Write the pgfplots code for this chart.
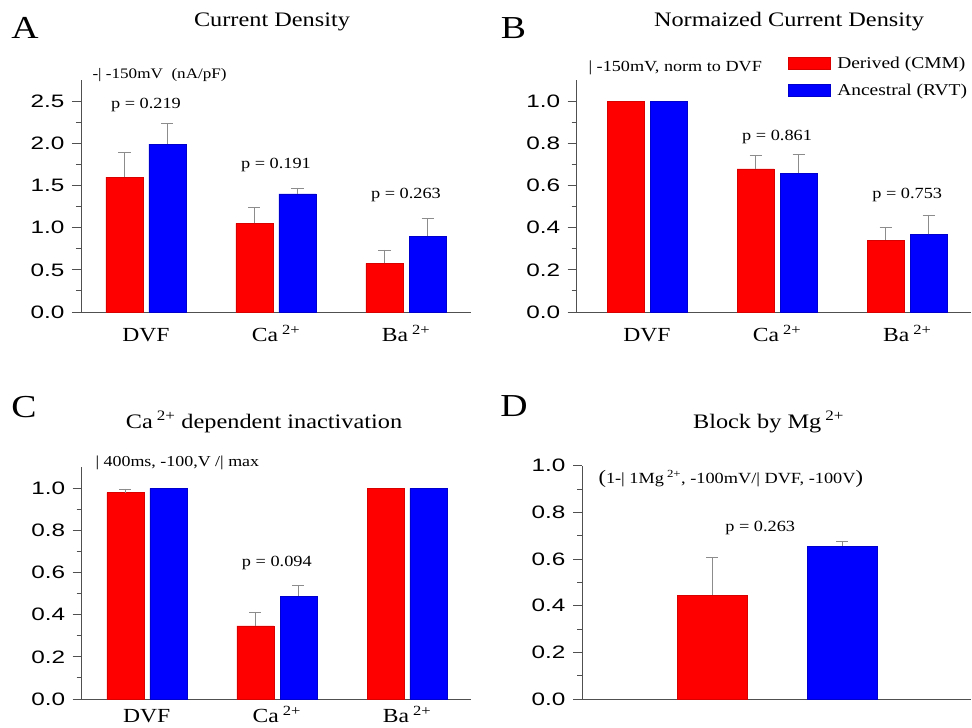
\documentclass[border=0pt]{standalone}
\usepackage{fontspec}
\setmainfont{Liberation Serif}[FakeStretch=1.18]
\newfontfamily\ticksf{Liberation Sans}[FakeStretch=1.35]
\usepackage{pgfplots}
\pgfplotsset{compat=1.18}
\definecolor{axgray}{HTML}{505050}
\definecolor{errgray}{HTML}{8C8C8C}
\pgfplotsset{
  panel/.style={
    scale only axis, anchor=south west, clip=false,
    axis x line=bottom, axis y line=left,
    axis line style={axgray, line width=0.9pt, -},
    tick style={axgray, line width=0.9pt},
    tick align=outside, major tick length=9pt, minor tick length=5pt,
    ymin=0, minor y tick num=1,
    yticklabel style={font=\ticksf\fontsize{18}{20}\selectfont, xshift=-4pt,
      /pgf/number format/.cd, fixed, fixed zerofill, precision=1, assume math mode=true},
    xticklabel style={font=\fontsize{20}{22}\selectfont, text height=16pt, text depth=0pt},
    x tick style={draw=none},
    ybar, bar width=37pt,
  },
  redbar/.style={fill=red, draw=red!85!black, line width=0.4pt},
  bluebar/.style={fill=blue, draw=blue!80!black, line width=0.4pt},
  errs/.style={error bars/.cd, y dir=plus, y explicit, error mark=|,
    error bar style={errgray, line width=0.9pt},
    error mark options={errgray, mark size=6pt, line width=0.9pt}},
  sw/.style={legend image code/.code={\draw[##1] (0pt,-6pt) rectangle (42pt,6pt);}},
}
\newcommand{\pfont}{\fontsize{15.5}{17}\selectfont}
\newcommand{\afont}{\fontsize{14.5}{16}\selectfont}
\newcommand{\tfont}{\fontsize{20.6}{22}\selectfont}
\newcommand{\lfont}{\fontsize{32}{34}\selectfont}
\newcommand{\ion}[1]{#1\kern4pt\textsuperscript{2+}}
\begin{document}
\begin{tikzpicture}
\useasboundingbox (0pt,0pt) rectangle (972pt,728pt);
% ---------------- Panel A
\begin{axis}[panel, at={(81pt,416pt)}, width=390pt, height=232pt,
  xmin=-0.5, xmax=2.5, ymax=2.75, ytick={0,0.5,...,2.5},
  xticklabel style={yshift=-1pt},
  xtick={0,1,2}, xticklabels={DVF, \ion{Ca}, \ion{Ba}}]
\addplot[redbar, bar shift=-21.5pt, errs] coordinates {(0,1.60) +- (0,0.29) (1,1.05) +- (0,0.19) (2,0.577) +- (0,0.158)};
\addplot[bluebar, bar shift=21.5pt, errs] coordinates {(0,1.99) +- (0,0.24) (1,1.40) +- (0,0.07) (2,0.90) +- (0,0.205)};
\node[font=\pfont] at (axis cs:0,2.45) {p = 0.219};
\node[font=\pfont] at (axis cs:1,1.742) {p = 0.191};
\node[font=\pfont] at (axis cs:2,1.386) {p = 0.263};
\end{axis}
\node[font=\lfont] at (25pt,700pt) {A};
\node[font=\tfont] at (272pt,706pt) {Current Density};
\node[font=\afont, anchor=west] at (89pt,653pt) {-| -150mV\ \ (nA/pF)};
% ---------------- Panel B
\begin{axis}[panel, at={(576.7pt,416pt)}, width=394.3pt, height=232pt,
  xmin=-0.54, xmax=2.49, ymax=1.1, ytick={0,0.2,...,1.0},
  xticklabel style={yshift=-1pt},
  xtick={0,1,2}, xticklabels={DVF, \ion{Ca}, \ion{Ba}},
  legend style={at={(axis description cs:0.535,1.11)}, anchor=north west, draw=none, fill=none,
    inner sep=0pt, font=\fontsize{16.5}{18}\selectfont, row sep=10pt,
    /tikz/every odd column/.append style={column sep=5pt}},
  legend cell align=left]
\addplot[redbar, bar shift=-21.5pt, sw, errs] coordinates {(1,0.678) +- (0,0.063) (2,0.341) +- (0,0.059)};
\addlegendentry{Derived (CMM)}
\addplot[bluebar, bar shift=21.5pt, sw, errs] coordinates {(1,0.659) +- (0,0.09) (2,0.368) +- (0,0.092)};
\addlegendentry{Ancestral (RVT)}
\addplot[redbar, bar shift=-21.5pt, forget plot] coordinates {(0,1.0)};
\addplot[bluebar, bar shift=21.5pt, forget plot] coordinates {(0,1.0)};
\node[font=\pfont] at (axis cs:1,0.83) {p = 0.861};
\node[font=\pfont] at (axis cs:2,0.555) {p = 0.753};
\end{axis}
\node[font=\lfont] at (513.5pt,700pt) {B};
\node[font=\tfont] at (789pt,706pt) {Normaized Current Density};
\node[font=\fontsize{15.4}{17}\selectfont, anchor=west] at (585pt,660pt) {| -150mV, norm to DVF};
% ---------------- Panel C
\begin{axis}[panel, at={(81.7pt,29pt)}, width=389pt, height=231.7pt,
  xmin=-0.5, xmax=2.49, ymax=1.1, ytick={0,0.2,...,1.0},
  xticklabel style={yshift=5pt},
  xtick={0,1,2}, xticklabels={DVF, \ion{Ca}, \ion{Ba}}]
\addplot[redbar, bar shift=-21.5pt, errs] coordinates {(0,0.98) +- (0,0.017) (1,0.347) +- (0,0.062)};
\addplot[bluebar, bar shift=21.5pt, errs] coordinates {(1,0.49) +- (0,0.05)};
\addplot[redbar, bar shift=-21.5pt, forget plot] coordinates {(2,1.0)};
\addplot[bluebar, bar shift=21.5pt, forget plot] coordinates {(0,1.0) (2,1.0)};
\node[font=\pfont] at (axis cs:1,0.645) {p = 0.094};
\end{axis}
\node[font=\lfont] at (24pt,321pt) {C};
\node[font=\tfont] at (264pt,306pt) {\ion{Ca} dependent inactivation};
\node[font=\fontsize{15.2}{17}\selectfont, anchor=west] at (92pt,265pt) {| 400ms, -100,V /| max};
% ---------------- Panel D
\begin{axis}[panel, at={(582pt,29pt)}, width=389pt, height=233.3pt,
  xmin=0, xmax=2.99, ymax=1.0, ytick={0,0.2,...,1.0},
  xtick=\empty, bar width=70pt]
\addplot[redbar, bar shift=0pt, errs] coordinates {(1,0.447) +- (0,0.159)};
\addplot[bluebar, bar shift=0pt, errs] coordinates {(2,0.656) +- (0,0.02)};
\node[font=\pfont] at (axis cs:1.37,0.733) {p = 0.263};
\end{axis}
\node[font=\lfont] at (514pt,322pt) {D};
\node[font=\tfont] at (768.5pt,306pt) {\ion{Block by Mg}};
\node[font=\fontsize{15.5}{17}\selectfont, anchor=west] at (595pt,249pt) {{\fontsize{19}{19}\selectfont(}1-| 1Mg\kern3pt\raisebox{1.5pt}{\textsuperscript{2+}}, -100mV/| DVF, -100V{\fontsize{19}{19}\selectfont)}};
\end{tikzpicture}
\end{document}
